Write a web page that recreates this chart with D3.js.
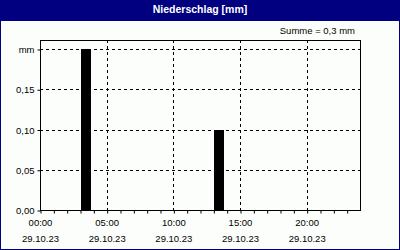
<!DOCTYPE html>
<html>
<head>
<meta charset="utf-8">
<script src="https://cdn.jsdelivr.net/npm/d3@7"></script>
<style>
  body { margin: 0; background: #fff; }
  text { font-family: "Liberation Sans", Arial, sans-serif; }
</style>
</head>
<body>
<svg id="chart"></svg>
<script>
// hourly rain on 29.10.23 (hour of day -> mm)
const hours = d3.range(0, 24)
const rain = [0, 0, 0, 0.2, 0, 0, 0, 0, 0, 0, 0, 0, 0, 0.1, 0, 0, 0, 0, 0, 0, 0, 0, 0, 0]
const xTickHours = [0, 5, 10, 15, 20]
const xTickDate = '29.10.23'
const yTicks = [0, 0.05, 0.1, 0.15, 0.2]
const title = 'Niederschlag [mm]'
const sumLabel = 'Summe = 0,3 mm'

const width = 400, height = 250
const plotLeft = 40, plotRight = 360, plotTop = 40, plotBottom = 210

let svg = d3.select('#chart').attr('width', width).attr('height', height)

// frame + header
svg.append('rect').attr('x', 0).attr('y', 0).attr('width', width).attr('height', height).attr('fill', '#000080')
svg.append('rect').attr('x', 1).attr('y', 21).attr('width', width - 2).attr('height', height - 22).attr('fill', '#fcfefc')
svg.append('text').attr('x', 200).attr('y', 13).attr('text-anchor', 'middle')
    .attr('fill', '#fff').attr('font-weight', 'bold').attr('font-size', '10.5px').text(title)
svg.append('text').attr('x', 355).attr('y', 34).attr('text-anchor', 'end')
    .attr('font-size', '9.5px').attr('fill', '#000').text(sumLabel)

let x = d3.scaleLinear().domain([0, 24]).range([plotLeft, plotRight])
let y = d3.scaleLinear().domain([0, 0.2]).range([plotBottom, 49])

let g = svg.append('g')

// grid
g.selectAll('.hgrid').data(yTicks.slice(1)).enter().append('line')
    .attr('x1', plotLeft).attr('x2', plotRight)
    .attr('y1', d => Math.round(y(d)) + 0.5).attr('y2', d => Math.round(y(d)) + 0.5)
    .attr('stroke', '#000').attr('stroke-dasharray', '3,3')
g.selectAll('.vgrid').data(xTickHours.slice(1)).enter().append('line')
    .attr('x1', d => Math.round(x(d)) + 0.5).attr('x2', d => Math.round(x(d)) + 0.5)
    .attr('y1', plotTop).attr('y2', plotBottom)
    .attr('stroke', '#000').attr('stroke-dasharray', '3,3')

// bars
g.selectAll('.bar').data(hours.filter(h => rain[h] > 0)).enter().append('rect')
    .attr('x', h => Math.round(x(h)) + 1)
    .attr('width', h => Math.round(x(h + 0.75) - x(h)))
    .attr('y', h => Math.round(y(rain[h])))
    .attr('height', h => plotBottom - Math.round(y(rain[h])))
    .attr('fill', '#000')

// box
g.append('rect').attr('x', plotLeft + 0.5).attr('y', plotTop + 0.5)
    .attr('width', plotRight - plotLeft).attr('height', plotBottom - plotTop)
    .attr('fill', 'none').attr('stroke', '#000')

// axes
let xAxis = d3.axisBottom(x).tickValues(d3.range(0, 24)).tickSize(3).tickFormat('')
g.append('g').attr('transform', `translate(0.5,${plotBottom + 0.5})`).call(xAxis)
    .call(a => a.select('.domain').remove())

let yAxis = d3.axisLeft(y).tickValues(yTicks).tickSize(3).tickPadding(3)
    .tickFormat(d => d === 0.2 ? 'mm' : d3.format('.2f')(d).replace('.', ','))
g.append('g').attr('transform', `translate(${plotLeft + 0.5},0.5)`).call(yAxis)
    .call(a => a.select('.domain').remove())
    .call(a => a.selectAll('text').attr('font-size', '9.5px').attr('fill', '#000'))
g.selectAll('.tick text').style('font-family', '"Liberation Sans", Arial, sans-serif')

// time labels
let lab = g.selectAll('.xlab').data(xTickHours).enter().append('g')
    .attr('transform', d => `translate(${x(d) + 0.5},0)`)
lab.append('text').attr('y', 226).attr('text-anchor', 'middle').attr('font-size', '9.5px')
    .text(d => d3.format('02')(d) + ':00')
lab.append('text').attr('y', 242).attr('text-anchor', 'middle').attr('font-size', '9.5px')
    .text(xTickDate)
</script>
</body>
</html>
